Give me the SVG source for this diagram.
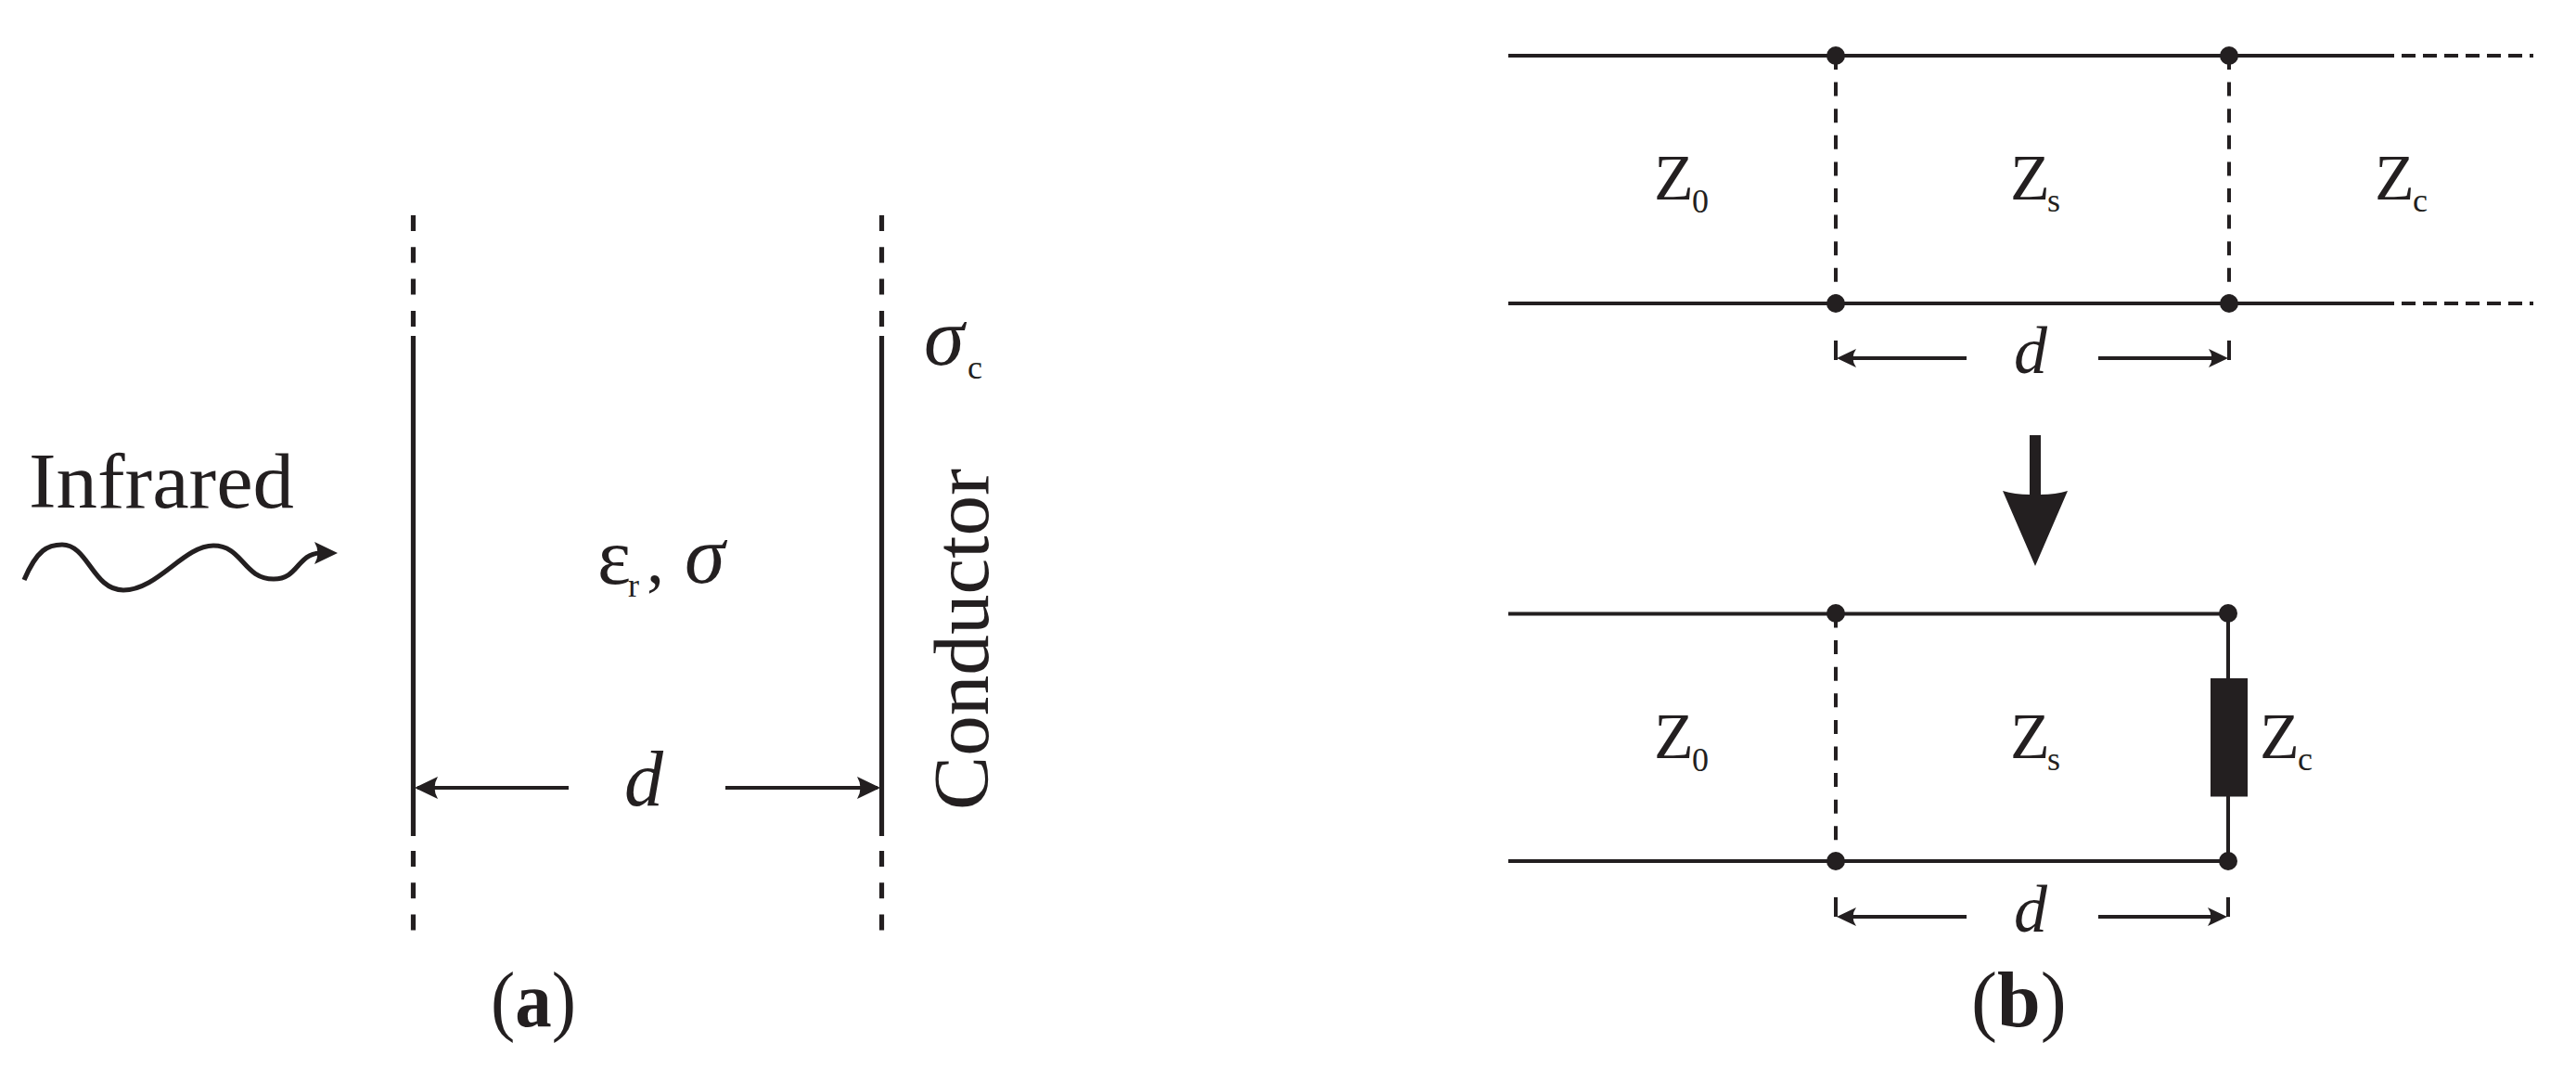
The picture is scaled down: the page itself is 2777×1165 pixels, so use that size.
<svg xmlns="http://www.w3.org/2000/svg" width="2777" height="1165" viewBox="0 0 2777 1165">
<style>
text{font-family:"Liberation Serif","Times New Roman",serif;fill:#231f20}
.z{font-size:70px}.sub{font-size:36px}
.d{font-size:72px;font-style:italic}
.s{stroke:#231f20;stroke-width:4;fill:none}
.t{stroke-width:5.2}
.dv{stroke-dasharray:17 17.3}
.dh{stroke-dasharray:15 8}
.dz{stroke-dasharray:15 13.6}
.f{fill:#231f20;stroke:none}
.cap{font-size:84px}
</style>
<defs>
<path id="ah" class="f" d="M0 0L-25 -12Q-18 0 -25 12Z"/>
<path id="ahs" class="f" d="M0 0L-21 -10Q-14 0 -21 10Z"/>
<circle id="dot" class="f" r="10"/>
</defs>
<rect width="2777" height="1165" fill="#fff"/>
<g id="connectors">
<path class="s t" d="M445.500 362V901M950.500 362V901"/>
<path class="s t dv" d="M445.500 232V352M950.500 232V352M445.500 917V1003M950.500 917V1003"/>
<path class="s" d="M613 849H450M782 849H946"/>
<use href="#ah" transform="translate(447 849) rotate(180)"/>
<use href="#ah" transform="translate(949 849)"/>
<path class="s t" d="M26 625C40 592 52 587 67 587C95 587 100 636 133 636C170 636 198 588 230 588C262 588 262 624 295 624C322 624 320 597 345 596"/>
<use href="#ah" transform="translate(364 596)"/>
<path class="s" d="M1626 60H2581M1626 327H2581"/>
<path class="s dh" d="M2589 60H2731M2589 327H2731"/>
<path class="s dz" d="M1979 60V327M2403 60V327"/>
<path class="s" d="M1979 367V388M2403 367V388M2120 386H1985M2262 386H2398"/>
<use href="#ahs" transform="translate(1980 386) rotate(180)"/>
<use href="#ahs" transform="translate(2402 386)"/>
<path class="f" d="M2188 469H2200V533Q2216 533 2229 529L2194 610L2159 529Q2172 533 2188 533Z"/>
<path class="s" d="M1626 661.500H2402M1626 928H2402M2402 661V928"/>
<path class="s dz" d="M1979 661.500V928"/>
<path class="s" d="M1979 967V988M2402 967V988M2120 988H1985M2262 988H2397"/>
<use href="#ahs" transform="translate(1980 988) rotate(180)"/>
<use href="#ahs" transform="translate(2401 988)"/>
</g>
<g id="node-dots">
<use href="#dot" x="1979" y="60"/><use href="#dot" x="2403" y="60"/>
<use href="#dot" x="1979" y="327"/><use href="#dot" x="2403" y="327"/>
<use href="#dot" x="1979" y="661"/><use href="#dot" x="2402" y="661"/>
<use href="#dot" x="1979" y="928"/><use href="#dot" x="2402" y="928"/>
</g>
<g id="resistor"><rect class="f" x="2383" y="731" width="40" height="127.500"/></g>
<g id="labels-a">
<text x="31" y="547" font-size="84" textLength="286" lengthAdjust="spacingAndGlyphs">Infrared</text>
<text x="644" y="629" font-size="86">ε<tspan font-size="36" y="643" x="677">r</tspan><tspan y="628" x="697" font-size="76">,</tspan><tspan font-style="italic" x="738" y="628" font-size="88">σ</tspan></text>
<text x="996" y="393" font-size="88" font-style="italic">σ<tspan font-style="normal" font-size="36" y="408" x="1043">c</tspan></text>
<text transform="translate(1065 873) rotate(-90)" font-size="84" textLength="368" lengthAdjust="spacingAndGlyphs">Conductor</text>
<text x="673" y="868" font-size="84" font-style="italic">d</text>
<text class="cap" x="529" y="1106" textLength="92" lengthAdjust="spacingAndGlyphs">(<tspan font-weight="700">a</tspan>)</text>
</g>
<g id="labels-b">
<text class="z" x="1783" y="215">Z<tspan class="sub" y="229" x="1824">0</tspan></text>
<text class="z" x="2167" y="215">Z<tspan class="sub" y="228" x="2207">s</tspan></text>
<text class="z" x="2560" y="215">Z<tspan class="sub" y="228" x="2601">c</tspan></text>
<text class="d" x="2171" y="402">d</text>
<text class="z" x="1783" y="817">Z<tspan class="sub" y="831" x="1824">0</tspan></text>
<text class="z" x="2167" y="817">Z<tspan class="sub" y="830" x="2207">s</tspan></text>
<text class="z" x="2436" y="817">Z<tspan class="sub" y="830" x="2477">c</tspan></text>
<text class="d" x="2171" y="1004">d</text>
<text class="cap" x="2125" y="1106">(<tspan font-weight="700">b</tspan>)</text>
</g>
</svg>
